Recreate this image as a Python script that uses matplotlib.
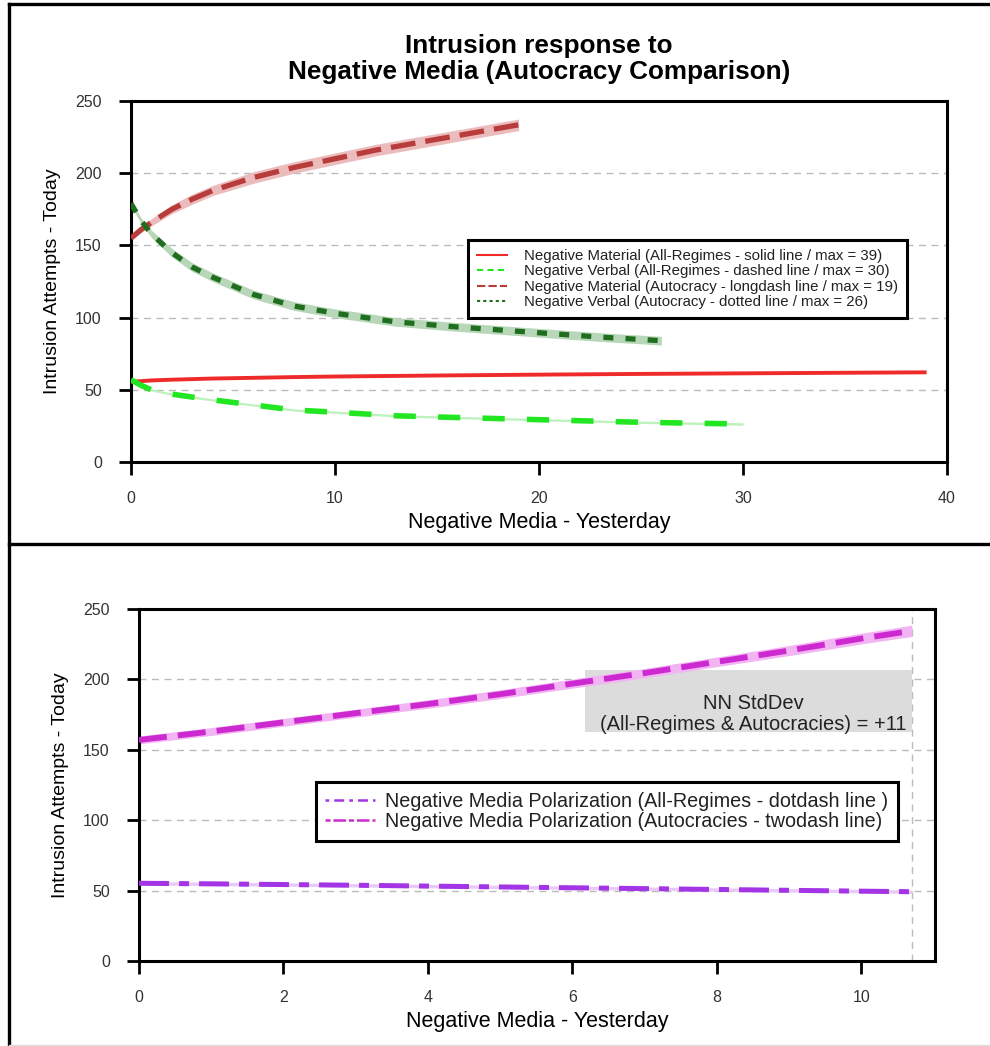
import matplotlib
matplotlib.use("Agg")
import matplotlib.pyplot as plt
from matplotlib.lines import Line2D
from matplotlib.patches import Rectangle
import numpy as np

plt.rcParams['font.family'] = ['Liberation Sans', 'DejaVu Sans']

# ---------------- data: top panel ----------------
mat_all_x = [0, 1, 2, 4, 6, 8, 10, 15, 20, 25, 30, 35, 39]
mat_all_y = [55.5, 56.5, 57.0, 57.8, 58.3, 58.8, 59.2, 59.9, 60.5, 61.0, 61.4, 61.8, 62.1]

verb_all_x = [0, 0.5, 1, 2, 3, 4, 6, 8, 10, 13, 16, 20, 25, 30]
verb_all_y = [57, 53, 50, 47, 45, 43, 39.5, 36, 34.5, 32, 30.8, 29.3, 27.5, 26.3]
verb_all_se = [1.0, 0.9, 0.8, 0.8, 0.8, 0.8, 0.8, 0.8, 0.8, 0.8, 0.8, 0.8, 0.8, 0.9]

mat_aut_x = [0, 0.5, 1, 2, 3, 4, 6, 8, 10, 12, 14, 16, 19]
mat_aut_y = [155, 161, 166, 175, 182, 188, 197, 204, 210, 216, 221, 226, 233.5]
mat_aut_se = [1.5, 2.0, 2.5, 3.0, 3.5, 3.5, 4.0, 4.0, 4.0, 4.0, 4.0, 4.0, 4.0]

verb_aut_x = [0, 0.5, 1, 2, 3, 4, 6, 8, 10, 13, 16, 20, 23, 26]
verb_aut_y = [179, 167, 158, 145, 135, 128, 116, 108, 103, 97, 93.5, 89.5, 86.5, 84]
verb_aut_se = [1.5, 2.0, 2.5, 3.0, 3.0, 3.0, 3.0, 3.0, 3.0, 3.0, 3.0, 3.0, 3.0, 3.0]

top_labels = [
    "Negative Material (All-Regimes - solid line / max = 39)",
    "Negative Verbal (All-Regimes - dashed line / max = 30)",
    "Negative Material (Autocracy - longdash line / max = 19)",
    "Negative Verbal (Autocracy - dotted line / max = 26)",
]

# ---------------- data: bottom panel ----------------
pol_x = [0, 1, 2, 3, 4, 5, 6, 7, 8, 9, 10, 10.7]
pol_all_y = [55.2, 54.8, 54.3, 53.8, 53.2, 52.6, 52.0, 51.4, 50.8, 50.2, 49.6, 49.2]
pol_all_se = [1.2] * 12
pol_aut_y = [157, 163, 169.5, 176, 182.5, 189.5, 197, 204.5, 212.5, 220.5, 229, 234.5]
pol_aut_se = [2.8, 2.8, 2.8, 2.8, 3.0, 3.1, 3.2, 3.3, 3.4, 3.6, 3.8, 4.0]
pol_max = 10.7

bottom_labels = [
    "Negative Media Polarization (All-Regimes - dotdash line )",
    "Negative Media Polarization (Autocracies - twodash line)",
]
stddev_text = "NN StdDev\n(All-Regimes & Autocracies) = +11"

yticks = [0, 50, 100, 150, 200, 250]
grid_y = [50, 100, 150, 200]

# ---------------- figure ----------------
W, H = 990, 1046
fig = plt.figure(figsize=(W / 100, H / 100), dpi=100)

def fx(px):
    return px / W

def fy(py):
    return 1 - py / H

ax1 = fig.add_axes([fx(131), fy(462), fx(947) - fx(131), fy(101) - fy(462)])
ax2 = fig.add_axes([fx(139), fy(961), fx(935) - fx(139), fy(609) - fy(961)])

def style_axes(ax):
    for s in ax.spines.values():
        s.set_linewidth(2.2)
        s.set_color('black')
    ax.tick_params(direction='out', length=9, width=2.0, color='black',
                   labelsize=11.5, labelcolor='#333333', pad=12)
    ax.set_yticks(yticks)
    ax.set_ylim(0, 250)
    for g in grid_y:
        ax.axhline(g, color='#bbbbbb', lw=1.0, ls=(0, (5, 4)), zorder=0)

def arr(a):
    return np.asarray(a, dtype=float)

# ---- top panel ----
style_axes(ax1)
ax1.set_xlim(0, 40)
ax1.set_xticks([0, 10, 20, 30, 40])

c_red = '#ee2a2a'
c_lgreen = '#22e622'
c_dred = '#b83c3c'
c_dgreen = '#1f6e1f'

ax1.fill_between(arr(mat_aut_x), arr(mat_aut_y) - arr(mat_aut_se), arr(mat_aut_y) + arr(mat_aut_se),
                 color='#ecbcbc', lw=0, zorder=2)
ax1.fill_between(arr(verb_aut_x), arr(verb_aut_y) - arr(verb_aut_se), arr(verb_aut_y) + arr(verb_aut_se),
                 color='#b8d6b8', lw=0, zorder=2)
ax1.fill_between(arr(verb_all_x), arr(verb_all_y) - arr(verb_all_se), arr(verb_all_y) + arr(verb_all_se),
                 color='#bdf2bd', lw=0, zorder=2)

ax1.plot(mat_all_x, mat_all_y, color=c_red, lw=2.8, solid_capstyle='butt', zorder=3)
ax1.plot(verb_all_x, verb_all_y, color=c_lgreen, lw=4.0, ls=(0, (4, 4)), zorder=3)
ax1.plot(mat_aut_x, mat_aut_y, color=c_dred, lw=3.8, ls=(0, (4.7, 1.9)), zorder=3)
ax1.plot(verb_aut_x, verb_aut_y, color=c_dgreen, lw=3.8, ls=(0, (1.9, 2.3)), zorder=3)

ax1.set_xlabel("Negative Media - Yesterday", fontsize=15.5, labelpad=4)
ax1.set_ylabel("Intrusion Attempts - Today", fontsize=14, labelpad=10)

h_top = [
    Line2D([], [], color=c_red, lw=1.5),
    Line2D([], [], color=c_lgreen, lw=1.5, ls=(0, (3, 2))),
    Line2D([], [], color=c_dred, lw=1.5, ls=(0, (4, 1.5))),
    Line2D([], [], color=c_dgreen, lw=1.5, ls=(0, (1.5, 1.5))),
]
leg1 = ax1.legend(h_top, top_labels, loc='upper right', bbox_to_anchor=(0.951, 0.615),
                  fontsize=10.8, frameon=True, fancybox=False, framealpha=1,
                  edgecolor='black', handlelength=2.0, borderpad=0.6, labelspacing=0.1,
                  handletextpad=1.15, borderaxespad=0)
leg1.get_frame().set_linewidth(2.2)
for t in leg1.get_texts():
    t.set_color('#222222')

fig.text(fx(539), fy(59), "Intrusion response to\nNegative Media (Autocracy Comparison)",
         ha='center', va='center', fontsize=18.8, fontweight='bold', linespacing=1.08)

# ---- bottom panel ----
style_axes(ax2)
ax2.set_xlim(0, 11.02)
ax2.set_xticks([0, 2, 4, 6, 8, 10])
ax2.axvline(pol_max, color='#bbbbbb', lw=1.0, ls=(0, (5, 4)), zorder=0)

c_purple = '#a335e6'
c_magenta = '#cc2ad0'

ax2.fill_between(arr(pol_x), arr(pol_aut_y) - arr(pol_aut_se), arr(pol_aut_y) + arr(pol_aut_se),
                 color='#f2b4f2', lw=0, zorder=2)
ax2.fill_between(arr(pol_x), arr(pol_all_y) - arr(pol_all_se), arr(pol_all_y) + arr(pol_all_se),
                 color='#e6cbf6', lw=0, zorder=2)
ax2.plot(pol_x, pol_aut_y, color=c_magenta, lw=4.2, ls=(0, (4.8, 1.9)), zorder=3)
ax2.plot(pol_x, pol_all_y, color=c_purple, lw=3.6, ls=(0, (6, 2, 2, 2)), zorder=3)

ax2.add_patch(Rectangle((6.18, 162.6), pol_max - 6.18, 44.1, facecolor='#dcdcdc',
                        edgecolor='none', zorder=1))
ax2.text(8.5, 175.4, stddev_text, ha='center', va='center', fontsize=14.5,
         color='#222222', linespacing=1.1, zorder=4)

ax2.set_xlabel("Negative Media - Yesterday", fontsize=15.5, labelpad=4)
ax2.set_ylabel("Intrusion Attempts - Today", fontsize=14, labelpad=10)

h_bot = [
    Line2D([], [], color=c_purple, lw=1.8, ls=(0, (1.5, 2, 4, 2))),
    Line2D([], [], color=c_magenta, lw=1.8, ls=(0, (2, 1.2, 5, 1.2))),
]
leg2 = ax2.legend(h_bot, bottom_labels, loc='upper right', bbox_to_anchor=(0.953, 0.5085),
                  fontsize=14.2, frameon=True, fancybox=False, framealpha=1,
                  edgecolor='black', handlelength=2.5, borderpad=0.5, labelspacing=0.05,
                  handletextpad=0.5, borderaxespad=0)
leg2.get_frame().set_linewidth(2.2)
for t in leg2.get_texts():
    t.set_color('#222222')

# ---- panel borders ----
tr = fig.transFigure
fig.add_artist(Line2D([fx(9), fx(9)], [fy(4), fy(1046)], color='black', lw=2.4, transform=tr))
fig.add_artist(Line2D([fx(9), 1], [fy(4), fy(4)], color='black', lw=2.4, transform=tr))
fig.add_artist(Line2D([fx(9), 1], [fy(544), fy(544)], color='black', lw=2.4, transform=tr))
fig.add_artist(Line2D([fx(9), 1], [fy(1045), fy(1045)], color='#dddddd', lw=1.0, transform=tr))

fig.savefig("out.png", dpi=100)
